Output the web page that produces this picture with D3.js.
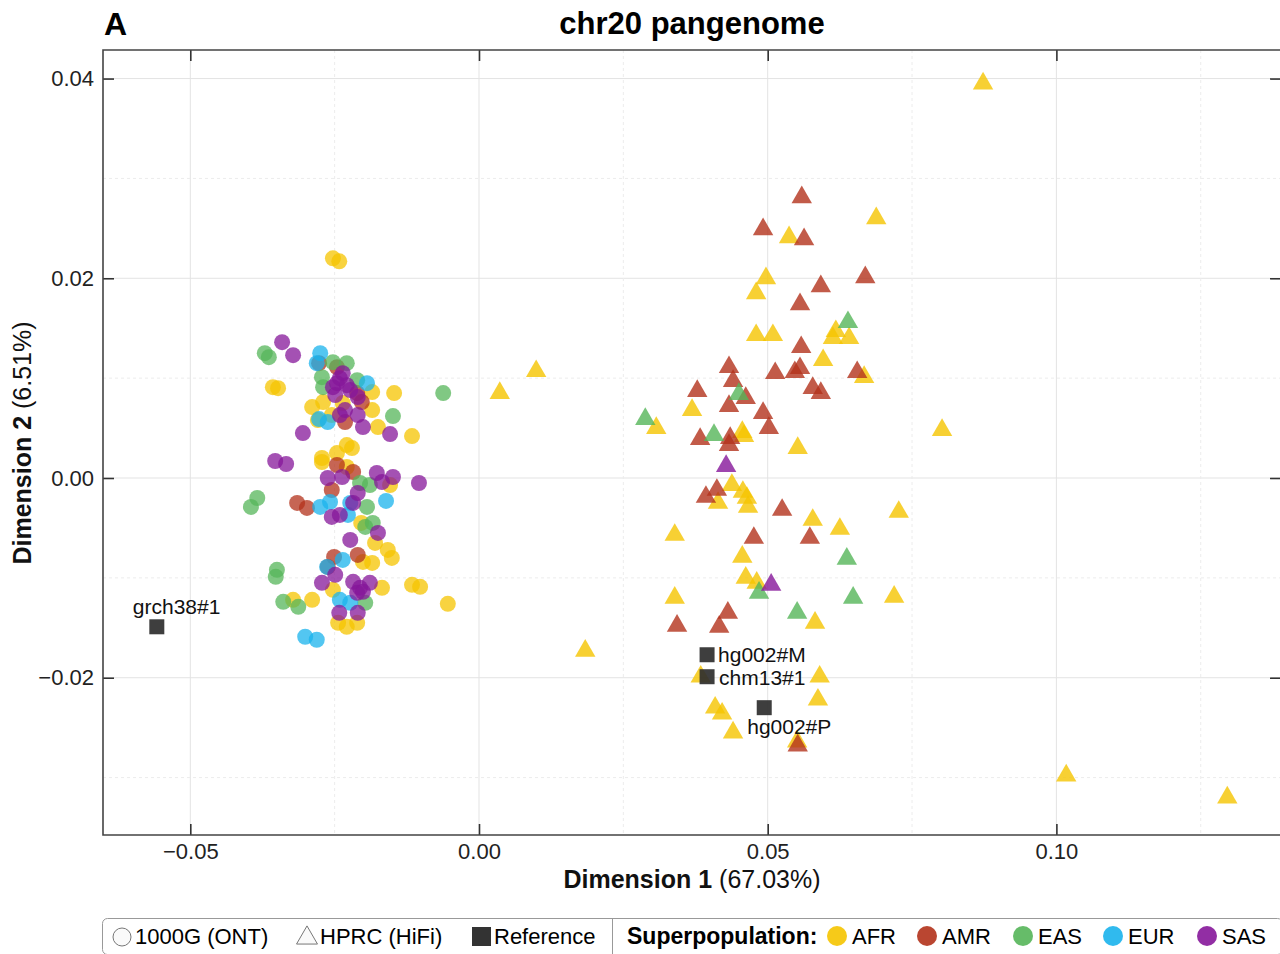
<!DOCTYPE html>
<html>
<head>
<meta charset="utf-8">
<script src="https://cdnjs.cloudflare.com/ajax/libs/d3/7.8.5/d3.min.js"></script>
<style>
  body { margin: 0; background: #fff; }
  svg { display: block; font-family: "Liberation Sans", Arial, Helvetica, sans-serif; }
</style>
</head>
<body>
<script>
// ---- data (Dimension 1, Dimension 2) ----
const superpops = ["AFR", "AMR", "EAS", "EUR", "SAS"];
const popColors = ["#f5c400", "#b3321b", "#55b559", "#19b3ec", "#86179a"];

// 1000G (ONT) samples
const ontAFR = [
  [-0.0253, 0.0220], [-0.0242, 0.0217], [-0.0357, 0.0091], [-0.0348, 0.0090],
  [-0.0185, 0.0086], [-0.0147, 0.0085], [-0.0289, 0.0071], [-0.0270, 0.0076],
  [-0.0236, 0.0075], [-0.0255, 0.0063], [-0.0279, 0.0058], [-0.0185, 0.0068],
  [-0.0175, 0.0051], [-0.0116, 0.0042], [-0.0229, 0.0033], [-0.0246, 0.0025],
  [-0.0272, 0.0020], [-0.0229, 0.0011], [-0.0272, 0.0016], [-0.0154, -0.0007],
  [-0.0220, 0.0030], [-0.0204, -0.0045], [-0.0180, -0.0065], [-0.0158, -0.0072],
  [-0.0151, -0.0080], [-0.0201, -0.0084], [-0.0185, -0.0085], [-0.0253, -0.0112],
  [-0.0168, -0.0110], [-0.0116, -0.0107], [-0.0102, -0.0109], [-0.0289, -0.0122],
  [-0.0322, -0.0122], [-0.0054, -0.0126], [-0.0244, -0.0145], [-0.0229, -0.0149],
  [-0.0211, -0.0145]
];
const ontAMR = [
  [-0.0277, 0.0115], [-0.0246, 0.0111], [-0.0203, 0.0076], [-0.0232, 0.0056],
  [-0.0246, 0.0013], [-0.0218, 0.0006], [-0.0255, -0.0012], [-0.0315, -0.0025],
  [-0.0298, -0.0030], [-0.0251, -0.0079], [-0.0210, -0.0077], [-0.0262, -0.0089],
  [-0.0211, 0.0085]
];
const ontEAS = [
  [-0.0371, 0.0125], [-0.0364, 0.0121], [-0.0253, 0.0116], [-0.0229, 0.0115],
  [-0.0272, 0.0101], [-0.0270, 0.0091], [-0.0211, 0.0098], [-0.0062, 0.0085],
  [-0.0149, 0.0062], [-0.0206, -0.0005], [-0.0189, -0.0007], [-0.0384, -0.0020],
  [-0.0395, -0.0029], [-0.0194, -0.0029], [-0.0184, -0.0045], [-0.0197, -0.0049],
  [-0.0350, -0.0092], [-0.0352, -0.0099], [-0.0339, -0.0124], [-0.0313, -0.0129],
  [-0.0197, -0.0125]
];
const ontEUR = [
  [-0.0275, 0.0125], [-0.0281, 0.0115], [-0.0194, 0.0095], [-0.0277, 0.0059],
  [-0.0262, 0.0056], [-0.0275, -0.0029], [-0.0258, -0.0024], [-0.0223, -0.0025],
  [-0.0161, -0.0023], [-0.0227, -0.0037], [-0.0236, -0.0082], [-0.0263, -0.0089],
  [-0.0241, -0.0122], [-0.0223, -0.0125], [-0.0301, -0.0159], [-0.0281, -0.0162]
];
const ontSAS = [
  [-0.0341, 0.0136], [-0.0322, 0.0123], [-0.0236, 0.0105], [-0.0253, 0.0091],
  [-0.0246, 0.0095], [-0.0241, 0.0100], [-0.0223, 0.0088], [-0.0210, 0.0081],
  [-0.0232, 0.0068], [-0.0241, 0.0063], [-0.0210, 0.0063], [-0.0201, 0.0051],
  [-0.0154, 0.0044], [-0.0305, 0.0045], [-0.0353, 0.0017], [-0.0334, 0.0014],
  [-0.0177, 0.0005], [-0.0149, 0.0001], [-0.0168, -0.0004], [-0.0104, -0.0005],
  [-0.0262, 0.0000], [-0.0237, 0.0001], [-0.0210, -0.0015], [-0.0218, -0.0025],
  [-0.0255, -0.0039], [-0.0241, -0.0037], [-0.0175, -0.0055], [-0.0223, -0.0062],
  [-0.0272, -0.0105], [-0.0249, -0.0097], [-0.0218, -0.0104], [-0.0206, -0.0110],
  [-0.0189, -0.0105], [-0.0211, -0.0115], [-0.0201, -0.0114], [-0.0242, -0.0135],
  [-0.0210, -0.0135], [-0.0249, 0.0083], [-0.0229, 0.0093]
];

// HPRC (HiFi) samples
const hprcAFR = [
  [0.0873, 0.0395], [0.0688, 0.0260], [0.0537, 0.0241], [0.0497, 0.0200],
  [0.0480, 0.0185], [0.0618, 0.0147], [0.0613, 0.0140], [0.0641, 0.0140],
  [0.0480, 0.0143], [0.0509, 0.0143], [0.0596, 0.0118], [0.0667, 0.0101],
  [0.0369, 0.0068], [0.0307, 0.0050], [0.0456, 0.0046], [0.0459, 0.0042],
  [0.0552, 0.0030], [0.0036, 0.0085], [0.0099, 0.0107], [0.0802, 0.0048],
  [0.0438, -0.0007], [0.0457, -0.0014], [0.0464, -0.0020], [0.0414, -0.0025],
  [0.0466, -0.0029], [0.0727, -0.0034], [0.0578, -0.0042], [0.0625, -0.0051],
  [0.0339, -0.0057], [0.0456, -0.0079], [0.0462, -0.0100], [0.0481, -0.0105],
  [0.0339, -0.0120], [0.0719, -0.0119], [0.0582, -0.0145], [0.0184, -0.0173],
  [0.0384, -0.0199], [0.0590, -0.0199], [0.0587, -0.0222], [0.0409, -0.0230],
  [0.0421, -0.0236], [0.0440, -0.0255], [0.0551, -0.0264], [0.1017, -0.0298],
  [0.1296, -0.0320]
];
const hprcAMR = [
  [0.0559, 0.0281], [0.0492, 0.0249], [0.0563, 0.0239], [0.0592, 0.0192],
  [0.0669, 0.0201], [0.0556, 0.0174], [0.0558, 0.0131], [0.0433, 0.0111],
  [0.0513, 0.0105], [0.0547, 0.0106], [0.0556, 0.0110], [0.0655, 0.0106],
  [0.0440, 0.0097], [0.0578, 0.0090], [0.0592, 0.0085], [0.0378, 0.0087],
  [0.0462, 0.0080], [0.0433, 0.0072], [0.0492, 0.0065], [0.0502, 0.0050],
  [0.0383, 0.0039], [0.0435, 0.0040], [0.0433, 0.0033], [0.0393, -0.0019],
  [0.0412, -0.0012], [0.0525, -0.0032], [0.0476, -0.0060], [0.0573, -0.0060],
  [0.0431, -0.0135], [0.0343, -0.0148], [0.0416, -0.0149], [0.0552, -0.0268]
];
const hprcEAS = [
  [0.0639, 0.0156], [0.0450, 0.0084], [0.0288, 0.0059], [0.0407, 0.0043],
  [0.0637, -0.0081], [0.0485, -0.0115], [0.0648, -0.0120], [0.0551, -0.0135]
];
const hprcEUR = [];
const hprcSAS = [[0.0428, 0.0012], [0.0506, -0.0107]];

// reference assemblies
const refNames = ["grch38#1", "hg002#M", "chm13#1", "hg002#P"];
const refPoints = [[-0.0558, -0.0149], [0.0395, -0.0177], [0.0395, -0.0199], [0.0494, -0.0230]];

const xTicks = [-0.05, 0.0, 0.05, 0.1];
const yTicks = [-0.02, 0.0, 0.02, 0.04];
const xMinor = [-0.025, 0.025, 0.075, 0.125];
const yMinor = [-0.03, -0.01, 0.01, 0.03];

document.addEventListener("DOMContentLoaded", () => {
  const canvass = { width: 1280, height: 954 };
  const plot = { left: 103, right: 1281, top: 50, bottom: 835 };

  const xScale = d3.scaleLinear().domain([-0.06512, 0.13890]).range([plot.left, plot.right]);
  const yScale = d3.scaleLinear().domain([-0.03575, 0.04286]).range([plot.bottom, plot.top]);
  const colorScale = d3.scaleOrdinal().domain(superpops).range(popColors);

  const svg = d3.select("body").append("svg")
    .attr("width", canvass.width)
    .attr("height", canvass.height);

  const createGrid = () => {
    const g = svg.append("g").attr("class", "grid");
    g.selectAll(".gx").data(xTicks).enter().append("line")
      .attr("x1", (d) => xScale(d)).attr("x2", (d) => xScale(d))
      .attr("y1", plot.top).attr("y2", plot.bottom)
      .attr("stroke", "#e3e3e3").attr("stroke-width", 1);
    g.selectAll(".gy").data(yTicks).enter().append("line")
      .attr("y1", (d) => yScale(d)).attr("y2", (d) => yScale(d))
      .attr("x1", plot.left).attr("x2", plot.right)
      .attr("stroke", "#e3e3e3").attr("stroke-width", 1);
    g.selectAll(".mx").data(xMinor).enter().append("line")
      .attr("x1", (d) => xScale(d)).attr("x2", (d) => xScale(d))
      .attr("y1", plot.top).attr("y2", plot.bottom)
      .attr("stroke", "#ececec").attr("stroke-dasharray", "3,3");
    g.selectAll(".my").data(yMinor).enter().append("line")
      .attr("y1", (d) => yScale(d)).attr("y2", (d) => yScale(d))
      .attr("x1", plot.left).attr("x2", plot.right)
      .attr("stroke", "#ececec").attr("stroke-dasharray", "3,3");
  };

  const createAxes = () => {
    const fmt = d3.format(".2f");
    const styleAxis = (g) => {
      g.select(".domain").remove();
      g.selectAll(".tick line").attr("stroke", "#333").attr("stroke-width", 1.6);
      g.selectAll(".tick text").attr("fill", "#222").style("font-size", "22px");
    };
    svg.append("g")
      .attr("transform", `translate(0,${plot.bottom})`)
      .call(d3.axisBottom(xScale).tickValues(xTicks).tickFormat(fmt).tickSize(-11).tickPadding(8))
      .call(styleAxis);
    svg.append("g")
      .attr("transform", `translate(0,${plot.top})`)
      .call(d3.axisTop(xScale).tickValues(xTicks).tickFormat("").tickSize(-11))
      .call(styleAxis);
    svg.append("g")
      .attr("transform", `translate(${plot.left},0)`)
      .call(d3.axisLeft(yScale).tickValues(yTicks).tickFormat(fmt).tickSize(-11).tickPadding(9))
      .call(styleAxis);
    svg.append("g")
      .attr("transform", `translate(${plot.right},0)`)
      .call(d3.axisRight(yScale).tickValues(yTicks).tickFormat("").tickSize(-11))
      .call(styleAxis);

    // frame: left, bottom, top
    svg.append("path")
      .attr("d", `M${plot.right},${plot.top}H${plot.left}V${plot.bottom}H${plot.right}`)
      .attr("fill", "none").attr("stroke", "#444").attr("stroke-width", 1.6);
  };

  const createPoints = () => {
    const ont = [ontAFR, ontAMR, ontEAS, ontEUR, ontSAS];
    const hprc = [hprcAFR, hprcAMR, hprcEAS, hprcEUR, hprcSAS];
    const tri = d3.symbol().type(d3.symbolTriangle).size(180);

    ont.forEach((pts, i) => {
      svg.append("g").selectAll("circle").data(pts).enter().append("circle")
        .attr("cx", (d) => xScale(d[0]))
        .attr("cy", (d) => yScale(d[1]))
        .attr("r", 8)
        .attr("fill", colorScale(superpops[i]))
        .attr("fill-opacity", 0.75);
    });
    hprc.forEach((pts, i) => {
      svg.append("g").selectAll("path").data(pts).enter().append("path")
        .attr("d", tri)
        .attr("transform", (d) => `translate(${xScale(d[0])},${yScale(d[1])})`)
        .attr("fill", colorScale(superpops[i]))
        .attr("fill-opacity", 0.8);
    });

    // reference squares + labels
    const labelPos = {
      "grch38#1": { dx: -24, dy: -13 },
      "hg002#M": { dx: 11, dy: 7 },
      "chm13#1": { dx: 12, dy: 8 },
      "hg002#P": { dx: -17, dy: 26 },
    };
    const refs = svg.append("g");
    refs.selectAll("rect").data(refPoints).enter().append("rect")
      .attr("x", (d) => xScale(d[0]) - 7.5)
      .attr("y", (d) => yScale(d[1]) - 7.5)
      .attr("width", 15).attr("height", 15)
      .attr("fill", "#2e2e2e").attr("fill-opacity", 0.92);
    refs.selectAll("text").data(refPoints).enter().append("text")
      .attr("x", (d, i) => xScale(d[0]) + labelPos[refNames[i]].dx)
      .attr("y", (d, i) => yScale(d[1]) + labelPos[refNames[i]].dy)
      .style("font-size", "21px").attr("fill", "#111")
      .text((d, i) => refNames[i]);
  };

  const createTitles = () => {
    svg.append("text").attr("x", 104).attr("y", 35)
      .style("font-size", "32px").style("font-weight", "bold").text("A");
    svg.append("text").attr("x", 692).attr("y", 34).attr("text-anchor", "middle")
      .style("font-size", "31px").style("font-weight", "bold").text("chr20 pangenome");

    const xl = svg.append("text").attr("x", 692).attr("y", 888)
      .attr("text-anchor", "middle").style("font-size", "25px").attr("fill", "#111");
    xl.append("tspan").style("font-weight", "bold").text("Dimension 1");
    xl.append("tspan").text(" (67.03%)");

    const yl = svg.append("text")
      .attr("transform", "translate(31,443) rotate(-90)")
      .attr("text-anchor", "middle").style("font-size", "25px").attr("fill", "#111");
    yl.append("tspan").style("font-weight", "bold").text("Dimension 2");
    yl.append("tspan").text(" (6.51%)");
  };

  const createLegend = () => {
    const lg = svg.append("g").style("font-size", "22px");
    lg.append("rect").attr("x", 102.5).attr("y", 918.5).attr("width", 1180).attr("height", 36)
      .attr("rx", 5).attr("fill", "#fff").attr("stroke", "#999");
    lg.append("line").attr("x1", 612.5).attr("x2", 612.5).attr("y1", 919).attr("y2", 954)
      .attr("stroke", "#999");

    const ty = 944;
    lg.append("circle").attr("cx", 122).attr("cy", 937).attr("r", 9)
      .attr("fill", "#fafafa").attr("stroke", "#777");
    lg.append("text").attr("x", 135).attr("y", ty).text("1000G (ONT)");
    lg.append("path").attr("d", d3.symbol().type(d3.symbolTriangle).size(190))
      .attr("transform", "translate(307,938)").attr("fill", "#fafafa").attr("stroke", "#777");
    lg.append("text").attr("x", 320).attr("y", ty).text("HPRC (HiFi)");
    lg.append("rect").attr("x", 472).attr("y", 927).attr("width", 19).attr("height", 19)
      .attr("fill", "#333");
    lg.append("text").attr("x", 494).attr("y", ty).text("Reference");

    lg.append("text").attr("x", 627).attr("y", ty).style("font-weight", "bold")
      .style("font-size", "23px").text("Superpopulation:");
    const popX = [837, 927, 1023, 1113, 1207];
    superpops.forEach((p, i) => {
      lg.append("circle").attr("cx", popX[i]).attr("cy", 936).attr("r", 10)
        .attr("fill", colorScale(p)).attr("fill-opacity", 0.9);
      lg.append("text").attr("x", popX[i] + 15).attr("y", ty).text(p);
    });
  };

  createGrid();
  createAxes();
  createPoints();
  createTitles();
  createLegend();
});
</script>
</body>
</html>
